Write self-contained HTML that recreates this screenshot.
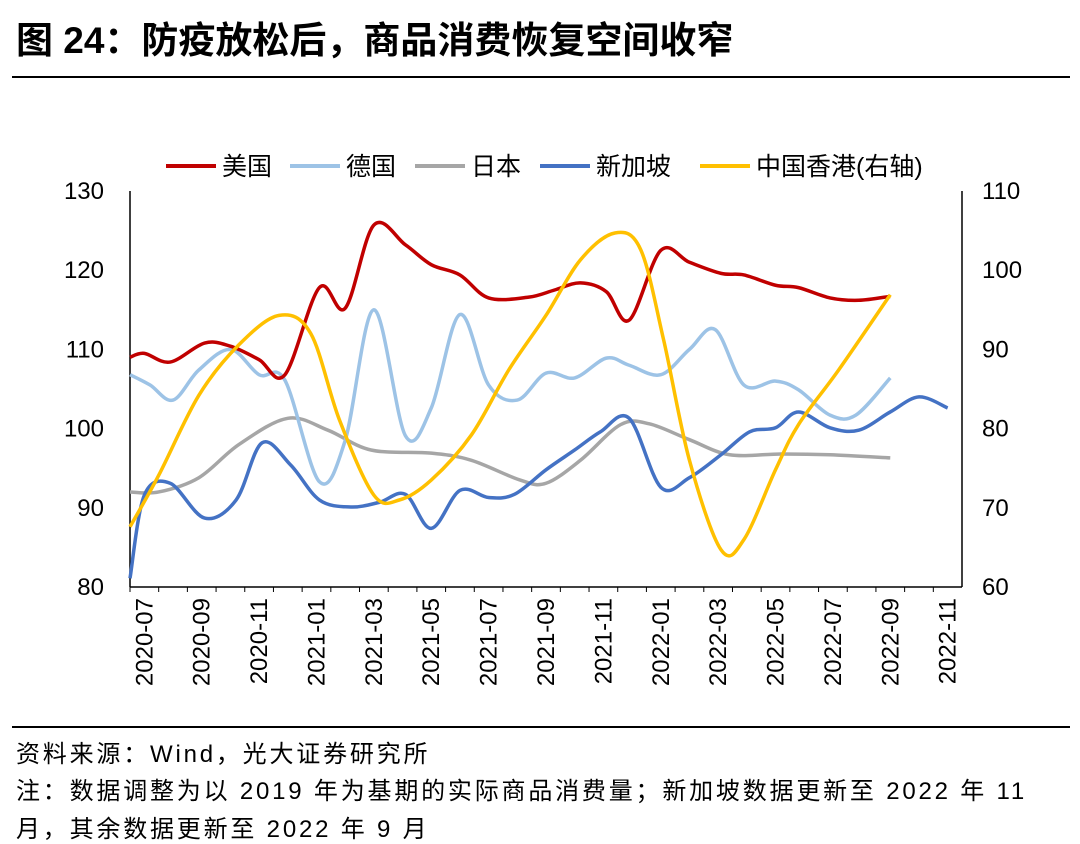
<!DOCTYPE html>
<html><head><meta charset="utf-8">
<style>
body{margin:0;background:#fff;width:1080px;height:841px;overflow:hidden;font-family:"Liberation Sans","Noto Sans CJK SC",sans-serif;}
.t{position:absolute;white-space:nowrap;color:#000;}
.n{font-size:24px;letter-spacing:2.8px;}
</style></head>
<body>
<div class="t" style="left:16px;top:10px;font-size:37px;font-weight:bold;">图 24：防疫放松后，商品消费恢复空间收窄</div>
<div style="position:absolute;left:12px;top:76px;width:1058px;height:2px;background:#000"></div>
<svg id="chart" width="1080" height="841" style="position:absolute;left:0;top:0" font-family="Liberation Sans, Noto Sans CJK SC, sans-serif"></svg>
<div style="position:absolute;left:12px;top:726px;width:1058px;height:2px;background:#000"></div>
<div class="t n" style="left:16px;top:734px;">资料来源：Wind，光大证券研究所</div>
<div class="t n" style="left:16px;top:771px;">注：数据调整为以 2019 年为基期的实际商品消费量；新加坡数据更新至 2022 年 11</div>
<div class="t n" style="left:16px;top:809px;">月，其余数据更新至 2022 年 9 月</div>
<script>
const months=["2020-07","2020-08","2020-09","2020-10","2020-11","2020-12","2021-01","2021-02","2021-03","2021-04","2021-05","2021-06","2021-07","2021-08","2021-09","2021-10","2021-11","2021-12","2022-01","2022-02","2022-03","2022-04","2022-05","2022-06","2022-07","2022-08","2022-09","2022-10","2022-11"];
const leftTicks=[80,90,100,110,120,130];
const rightTicks=[60,70,80,90,100,110];
const usT=[0,0.5,1.4,2.6,3.5,4.5,5.4,6.6,7.5,8.5,9.6,10.5,11.5,12.5,13.9,14.8,15.7,16.6,17.4,18.5,19.5,20.6,21.4,22.5,23.3,24.4,25.4,26.5];
const usV=[109,109.5,108.4,110.8,110.4,108.7,106.8,117.8,115.2,125.7,123.2,120.7,119.4,116.5,116.6,117.5,118.4,117.3,113.7,122.5,121,119.6,119.4,118.1,117.8,116.5,116.2,116.7];
const deT=[0,0.7,1.5,2.4,3.5,4.5,5.4,6.6,7.5,8.5,9.6,10.5,11.5,12.5,13.5,14.5,15.5,16.6,17.4,18.5,19.5,20.4,21.4,22.5,23.3,24.4,25.3,26.5];
const deV=[106.8,105.5,103.6,107.4,110,106.8,106.1,93.3,98.5,115,99.1,102.6,114.4,105.5,103.6,107,106.4,108.9,108,106.8,110,112.5,105.5,106,104.9,101.7,101.7,106.4];
const jpT=[0,1,2.4,3.8,5.5,6.9,8.4,10.5,11.9,13.6,14.5,15.7,17.1,18.1,19.5,20.9,22.7,24.4,26.5];
const jpV=[92,92,93.8,98,101.3,99.8,97.3,96.9,96,93.5,93.1,96,100.5,100.6,98.6,96.7,96.8,96.7,96.3];
const sgT=[0,0.5,1.4,2.6,3.7,4.6,5.6,6.6,7.7,8.7,9.6,10.5,11.5,12.5,13.4,14.5,15.5,16.4,17.4,18.5,19.5,20.6,21.6,22.5,23.3,24.4,25.4,26.5,27.5,28.5];
const sgV=[81.1,91.6,93.1,88.7,91,98.2,95.4,91,90.1,90.7,91.7,87.4,92.2,91.3,91.7,94.8,97.3,99.6,101.3,92.6,93.8,96.7,99.6,100.1,102.1,100.1,99.8,102.1,104,102.6];
const hkT=[0,1,2.4,3.8,5.2,6.3,7.3,8.5,9.4,10.5,11.9,13.2,14.5,15.7,16.9,17.8,18.6,19.5,20.6,21.4,22.5,23.3,24.7,26.5];
const hkV=[67.6,74.1,84.2,90.6,94.3,92,81.1,71.6,71,73.5,79.2,87.4,94.3,101.3,104.7,102.6,91.2,76,64.7,66,74.8,80.5,87.4,96.9];

const svg=document.getElementById('chart');const NS='http://www.w3.org/2000/svg';
const X0=130,X1=962,Y0=587,Y1=191,bw=(X1-X0)/months.length;
const xT=t=>X0+t*bw;
const yL=v=>Y0-(v-80)/50*(Y0-Y1);
const yR=v=>Y0-(v-60)/50*(Y0-Y1);
function mk(tag,attrs){const e=document.createElementNS(NS,tag);for(const k in attrs)e.setAttribute(k,attrs[k]);svg.appendChild(e);return e;}
function txt(x,y,s,anchor,name,extra){const e=mk('text',Object.assign({x:x,y:y,'font-size':24,'text-anchor':anchor,fill:'#000'},extra||{}));e.textContent=s;return e;}
let a=mk('line',{x1:X0,y1:Y1,x2:X0,y2:Y0,stroke:'#000','stroke-width':1.5});
a=mk('line',{x1:X1,y1:Y1,x2:X1,y2:Y0,stroke:'#000','stroke-width':1.5});
a=mk('line',{x1:X0,y1:Y0,x2:X1,y2:Y0,stroke:'#000','stroke-width':1.5});
leftTicks.forEach(v=>{txt(104,yL(v)+8,String(v),'end','left-tick-label');});
rightTicks.forEach(v=>{txt(982,yR(v)+8,String(v),'start','right-tick-label');});
months.forEach((m,i)=>{
  const t=mk('line',{x1:xT(i),y1:Y0,x2:xT(i),y2:Y0+5,stroke:'#000','stroke-width':1});
  
  if(i%2===0){const cx=xT(i+0.5)+8;txt(cx,598,m,'end','x-tick-label',{transform:`rotate(-90 ${cx} 598)`});}
});
function path(ts,vs,yf){const p=ts.map((t,i)=>[xT(t),yf(vs[i])]);let d=`M${p[0][0]},${p[0][1]}`;
  for(let i=0;i<p.length-1;i++){const p0=p[i-1]||p[i],p1=p[i],p2=p[i+1],p3=p[i+2]||p2;
    d+=` C${p1[0]+(p2[0]-p0[0])/6},${p1[1]+(p2[1]-p0[1])/6} ${p2[0]-(p3[0]-p1[0])/6},${p2[1]-(p3[1]-p1[1])/6} ${p2[0]},${p2[1]}`;}
  return d;}
const series=[[usT,usV,yL,'#c00000','us-line'],[deT,deV,yL,'#9dc3e6','germany-line'],[jpT,jpV,yL,'#a6a6a6','japan-line'],[sgT,sgV,yL,'#4472c4','singapore-line'],[hkT,hkV,yR,'#ffc000','hongkong-line']];
const order=[2,1,3,0,4];
order.forEach(k=>{const s=series[k];const e=mk('path',{d:path(s[0],s[1],s[2]),fill:'none',stroke:s[3],'stroke-width':3.5,'stroke-linejoin':'round'});});
const leg=[[166,'美国','#c00000'],[290,'德国','#9dc3e6'],[415,'日本','#a6a6a6'],[540,'新加坡','#4472c4'],[700,'中国香港(右轴)','#ffc000']];
leg.forEach(l=>{const e=mk('line',{x1:l[0],y1:166,x2:l[0]+50,y2:166,stroke:l[2],'stroke-width':4});
  txt(l[0]+56,175,l[1],'start','legend-entry',{'font-size':25});});
</script>
</body></html>
